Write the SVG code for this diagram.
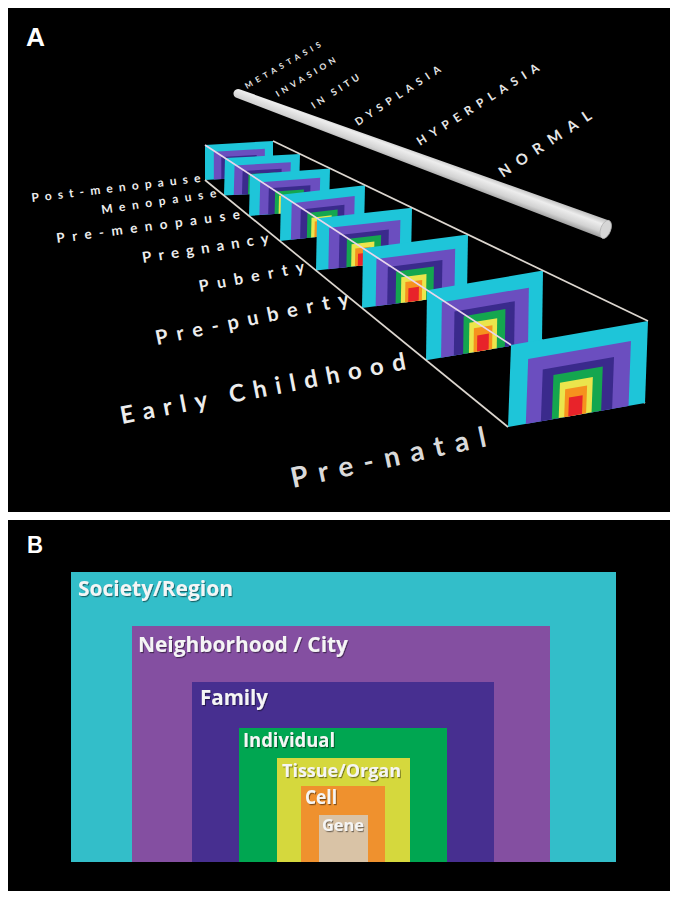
<svg xmlns="http://www.w3.org/2000/svg" xmlns:xlink="http://www.w3.org/1999/xlink" width="678" height="897" viewBox="0 0 678 897">
<style>
.age{font-family:Lato,"Open Sans","DejaVu Sans",sans-serif;font-weight:bold;fill:#EDEDED}
.stg{font-family:Lato,"Open Sans","DejaVu Sans",sans-serif;font-weight:bold;fill:#E6E6E6}
.lbl{font-family:"Open Sans","Liberation Sans",sans-serif;font-weight:bold;fill:#F5F5F5}
.pan{font-family:"Liberation Sans","DejaVu Sans",sans-serif;font-weight:bold;fill:#FFFFFF}
.guide{stroke:#DCD6CF;stroke-width:1.7;fill:none}
.guide2{stroke:#E9D6EC;stroke-width:1.7;fill:none}
</style>
<defs>
<g id="fr">
<rect width="100" height="100" fill="#1EC5D9"/>
<rect x="13" y="21" width="75" height="79" fill="#6B4EBF"/>
<rect x="24" y="37" width="52" height="63" fill="#3A2A8C"/>
<rect x="32" y="46" width="36" height="54" fill="#14A64F"/>
<rect x="37" y="57" width="24" height="43" fill="#EBE54C"/>
<rect x="41" y="66" width="16" height="34" fill="#F6921E"/>
<rect x="44" y="77" width="10" height="23" fill="#E8232A"/>
</g>
<linearGradient id="rodg" x1="0" y1="0" x2="0" y2="1">
<stop offset="0" stop-color="#BDBDBD"/>
<stop offset="0.3" stop-color="#EDEDED"/>
<stop offset="0.7" stop-color="#D2D2D2"/>
<stop offset="1" stop-color="#9C9C9C"/>
</linearGradient>
<filter id="sh" x="-10%" y="-30%" width="120%" height="160%">
<feDropShadow dx="1" dy="1.2" stdDeviation="0.6" flood-color="#000" flood-opacity="0.45"/>
</filter>
</defs>
<rect width="678" height="897" fill="#FFFFFF"/>
<g id="panel-a">
<rect x="8" y="8" width="662" height="504" fill="#000"/>
<text class="pan" x="26" y="46" font-size="25" textLength="19" lengthAdjust="spacingAndGlyphs">A</text>
<g id="rod">
<g transform="translate(238 93.5) rotate(20.28)">
<path d="M0,-4.5 L392,-9.5 L392,9.5 L0,4.5 A4.5,4.5 0 0 1 0,-4.5 Z" fill="url(#rodg)"/>
<ellipse cx="392" cy="0" rx="5" ry="9.5" fill="#D6D6D6" stroke="#B5B5B5" stroke-width="0.8"/>
</g>
</g>
<g id="stage-labels">
<text class="stg" font-size="8" transform="translate(247 89) rotate(-29.8)" textLength="86" lengthAdjust="spacing">METASTASIS</text>
<text class="stg" font-size="8.5" transform="translate(278 97) rotate(-31)" textLength="68" lengthAdjust="spacing">INVASION</text>
<text class="stg" font-size="9.5" transform="translate(314 109) rotate(-33)" textLength="55" lengthAdjust="spacing">IN SITU</text>
<text class="stg" font-size="10.5" transform="translate(358 126) rotate(-33.2)" textLength="100" lengthAdjust="spacing">DYSPLASIA</text>
<text class="stg" font-size="12" transform="translate(420 146) rotate(-32.3)" textLength="142" lengthAdjust="spacing">HYPERPLASIA</text>
<text class="stg" font-size="15" transform="translate(503 178) rotate(-33.7)" textLength="108" lengthAdjust="spacing">NORMAL</text>
</g>
<g id="connectors-back">
<line class="guide" x1="273" y1="176" x2="645" y2="403"/>
</g>
<g id="frame-post-menopause">
<use href="#fr" xlink:href="#fr" transform="matrix(0.68 -0.04 0 0.35 205 145)"/>
<text class="age" font-size="12" transform="translate(32 202) rotate(-6.8)" textLength="170" lengthAdjust="spacing">Post-menopause</text>
</g>
<g id="frame-menopause">
<use href="#fr" xlink:href="#fr" transform="matrix(0.75 -0.041 -0.01 0.374 225 158.1)"/>
<text class="age" font-size="12" transform="translate(102 214) rotate(-8.4)" textLength="116" lengthAdjust="spacing">Menopause</text>
</g>
<g id="frame-pre-menopause">
<use href="#fr" xlink:href="#fr" transform="matrix(0.80 -0.06 -0.01 0.415 250 174.4)"/>
<text class="age" font-size="13.5" transform="translate(57 243) rotate(-7.5)" textLength="185" lengthAdjust="spacing">Pre-menopause</text>
</g>
<g id="frame-pregnancy">
<use href="#fr" xlink:href="#fr" transform="matrix(0.84 -0.095 -0.01 0.464 281 194.7)"/>
<text class="age" font-size="15" transform="translate(143 263) rotate(-9)" textLength="128" lengthAdjust="spacing">Pregnancy</text>
</g>
<g id="frame-puberty">
<use href="#fr" xlink:href="#fr" transform="matrix(0.95 -0.105 -0.01 0.523 317 218.2)"/>
<text class="age" font-size="16" transform="translate(200 292) rotate(-10.8)" textLength="107" lengthAdjust="spacing">Puberty</text>
</g>
<g id="frame-pre-puberty">
<use href="#fr" xlink:href="#fr" transform="matrix(1.05 -0.137 -0.01 0.597 363 248.3)"/>
<text class="age" font-size="20" transform="translate(157 345) rotate(-11.7)" textLength="197" lengthAdjust="spacing">Pre-puberty</text>
</g>
<g id="frame-early-childhood">
<use href="#fr" xlink:href="#fr" transform="matrix(1.16 -0.196 -0.01 0.70 427 290.2)"/>
<text class="age" font-size="24" fill="#E2E2E2" transform="translate(122 424) rotate(-10.9)" textLength="290" lengthAdjust="spacing">Early Childhood</text>
</g>
<g id="frame-pre-natal">
<use href="#fr" xlink:href="#fr" transform="matrix(1.37 -0.24 -0.03 0.82 511 345)"/>
<text class="age" font-size="28" transform="translate(293 488) rotate(-12.2)" textLength="199" lengthAdjust="spacing" style="fill:#DADADA">Pre-natal</text>
</g>
<g id="connectors">
<line class="guide2" x1="205" y1="145" x2="511" y2="345"/>
<line class="guide" x1="273" y1="141" x2="648" y2="321"/>
<line class="guide" x1="205" y1="180" x2="508" y2="427"/>
</g>
</g>
<g id="panel-b">
<rect x="8" y="520" width="662" height="371" fill="#000"/>
<text class="pan" x="27" y="553" font-size="24" textLength="16" lengthAdjust="spacingAndGlyphs">B</text>
<g id="society-region">
<rect x="71" y="572" width="545" height="290" fill="#33BEC9"/>
<text class="lbl" x="78" y="596" font-size="21" textLength="155" lengthAdjust="spacingAndGlyphs" filter="url(#sh)">Society/Region</text>
</g>
<g id="neighborhood-city">
<rect x="132" y="626" width="418" height="236" fill="#844FA1"/>
<text class="lbl" x="138" y="652" font-size="21" textLength="210" lengthAdjust="spacingAndGlyphs" filter="url(#sh)">Neighborhood / City</text>
</g>
<g id="family">
<rect x="192" y="682" width="302" height="180" fill="#472F90"/>
<text class="lbl" x="200" y="705" font-size="21" textLength="68" lengthAdjust="spacingAndGlyphs" filter="url(#sh)">Family</text>
</g>
<g id="individual">
<rect x="239" y="728" width="208" height="134" fill="#00A651"/>
<text class="lbl" x="243" y="747" font-size="19" textLength="92" lengthAdjust="spacingAndGlyphs" filter="url(#sh)">Individual</text>
</g>
<g id="tissue-organ">
<rect x="277" y="758" width="133" height="104" fill="#D5D83D"/>
<text class="lbl" x="282" y="777" font-size="18" textLength="119" lengthAdjust="spacingAndGlyphs" filter="url(#sh)">Tissue/Organ</text>
</g>
<g id="cell">
<rect x="301" y="786" width="84" height="76" fill="#EF912E"/>
<text class="lbl" x="305" y="804" font-size="19" textLength="32" lengthAdjust="spacingAndGlyphs" filter="url(#sh)">Cell</text>
</g>
<g id="gene">
<rect x="319" y="815" width="49" height="47" fill="#D9C3A6"/>
<text class="lbl" x="322" y="831" font-size="16" textLength="42" lengthAdjust="spacingAndGlyphs" filter="url(#sh)">Gene</text>
</g>
</g>
</svg>
